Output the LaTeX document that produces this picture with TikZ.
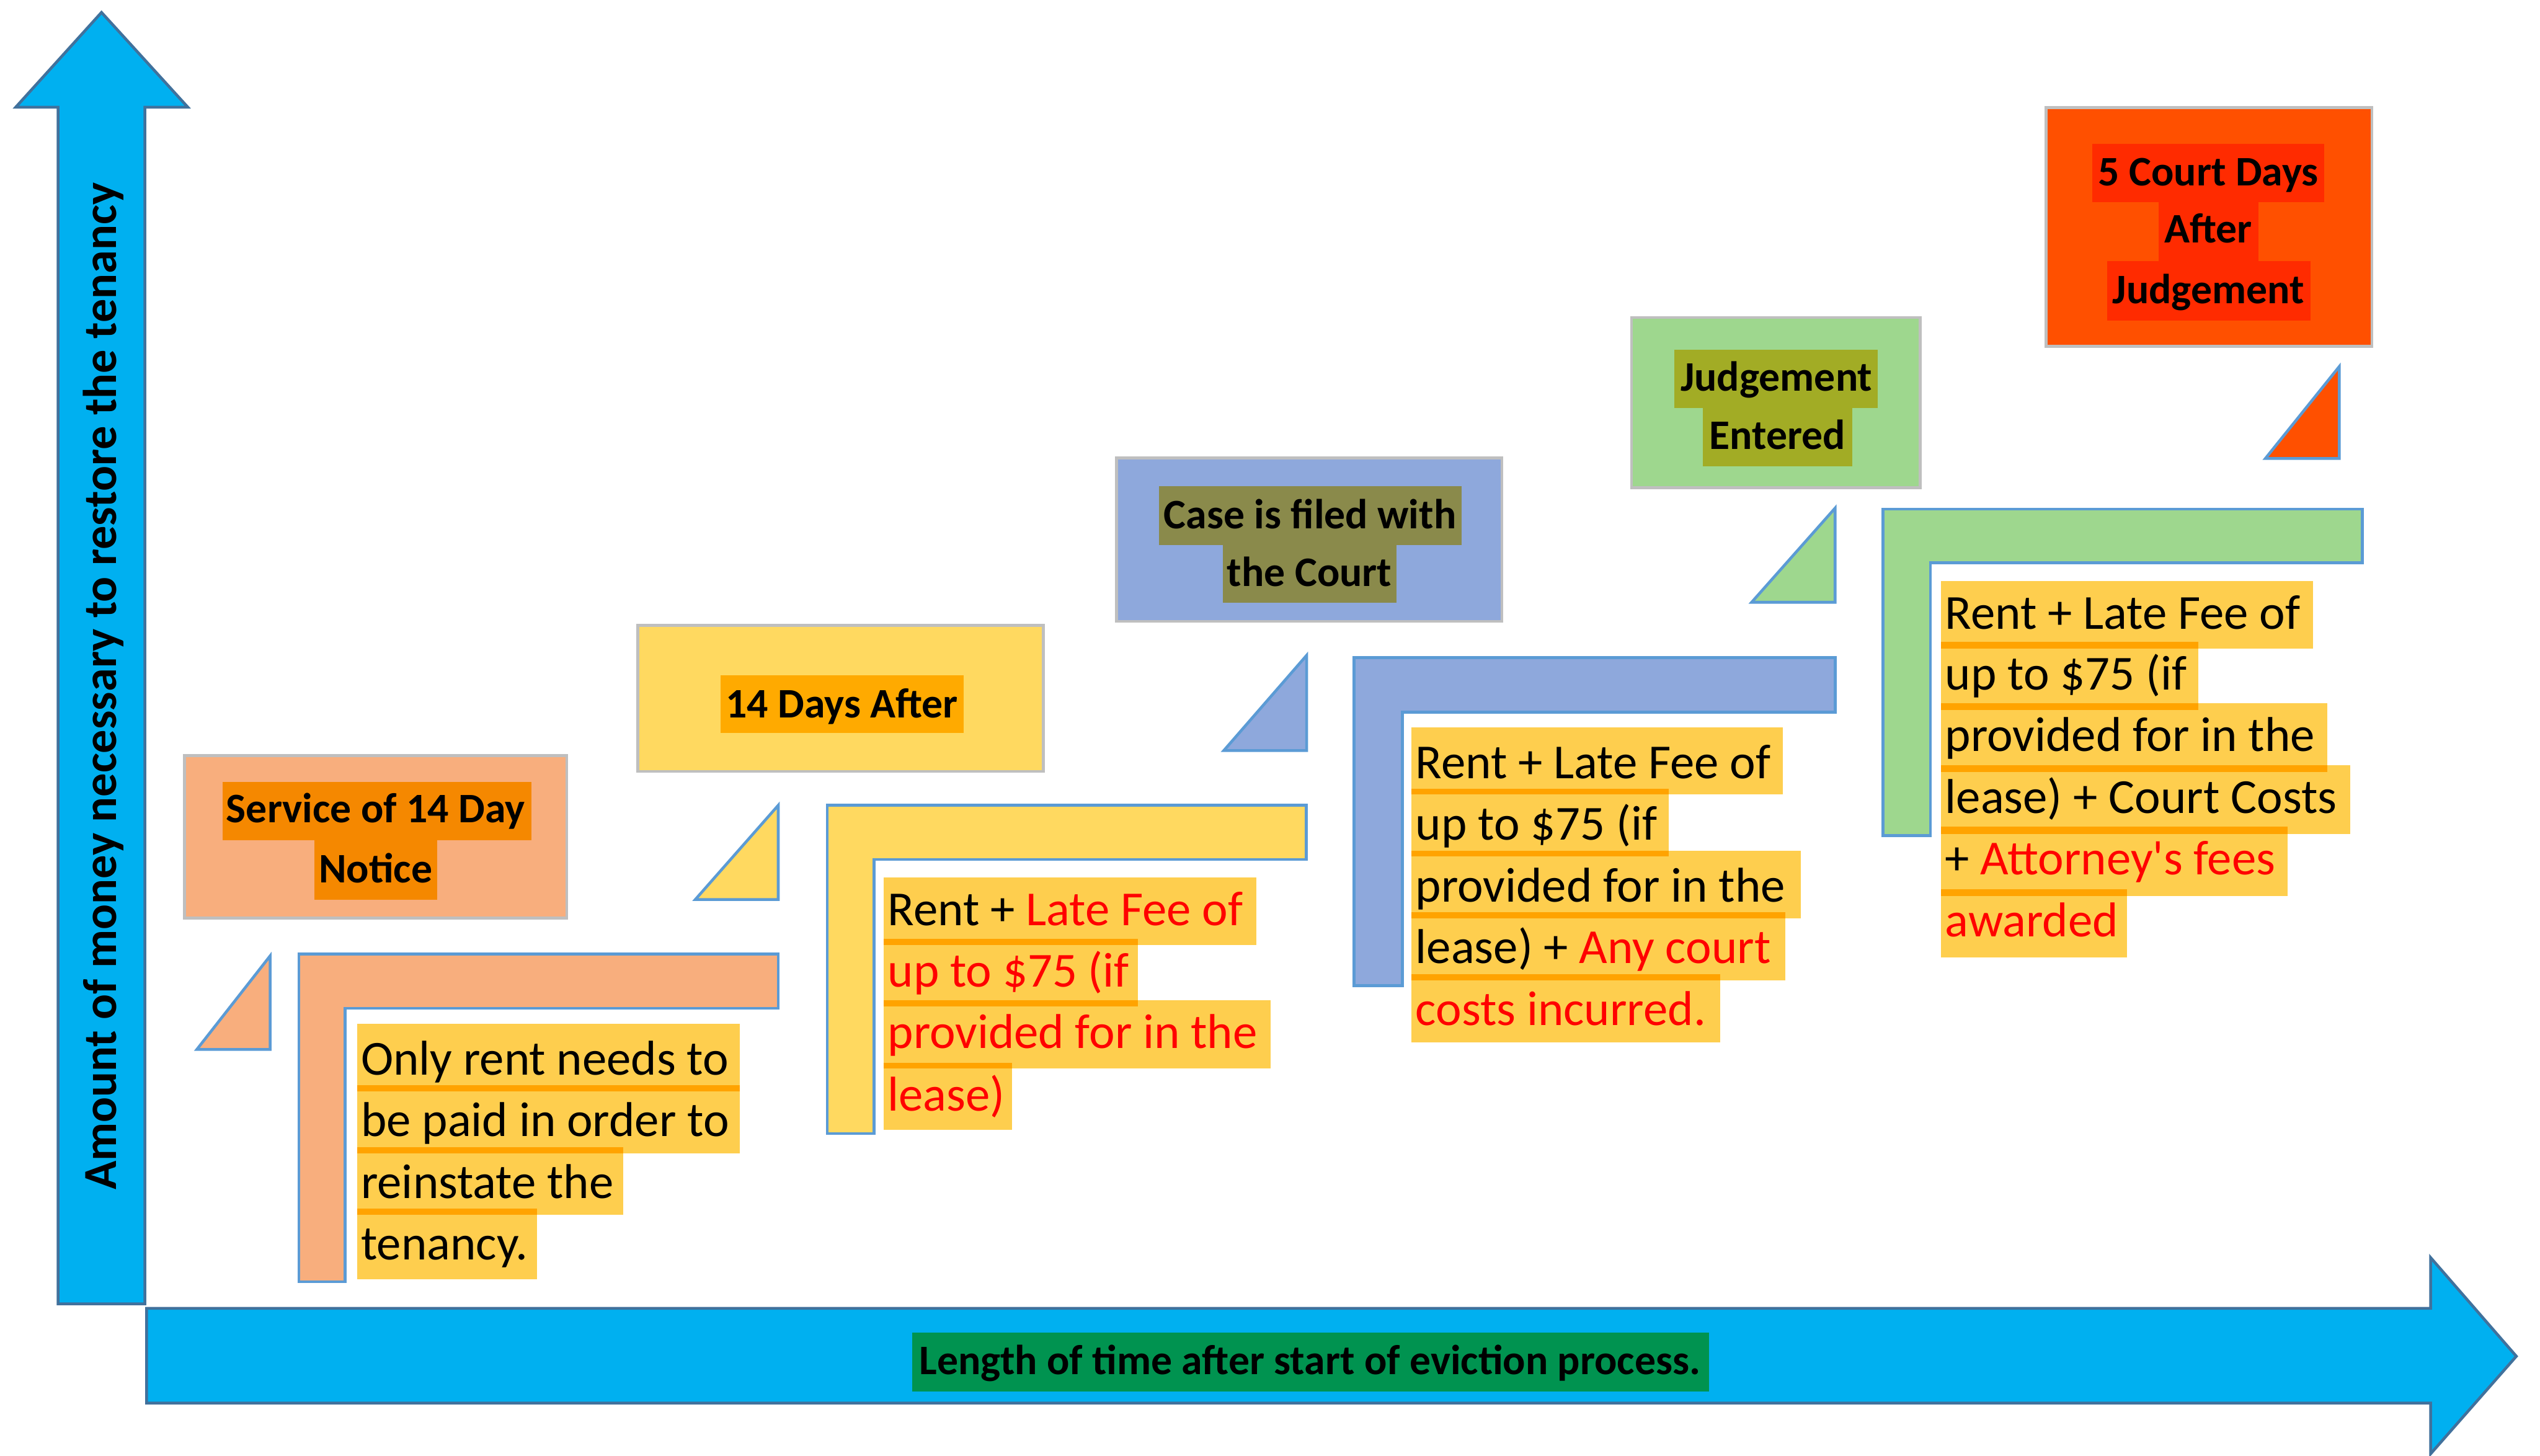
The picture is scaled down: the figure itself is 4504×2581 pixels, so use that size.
\documentclass[tikz,border=0pt]{standalone}
\usepackage{fontspec}
\setmainfont{Carlito}
\newfontfamily\apfont{Carlito}
\definecolor{axisblue}{HTML}{00B0F0}
\definecolor{axisedge}{HTML}{41719C}
\definecolor{boxgray}{HTML}{BFBFBF}
\definecolor{triblue}{HTML}{5B9BD5}
\definecolor{peach}{HTML}{F8AE7D}
\definecolor{yel}{HTML}{FFD960}
\definecolor{bluebox}{HTML}{8EA8DC}
\definecolor{greenbox}{HTML}{9ED78E}
\definecolor{redbox}{HTML}{FF5000}
\definecolor{hlpeach}{HTML}{F58800}
\definecolor{hlamber}{HTML}{FFAA00}
\definecolor{hlolive}{HTML}{8A8A4B}
\definecolor{hlolivetwo}{HTML}{A2AC25}
\definecolor{hlred}{HTML}{FF2B00}
\definecolor{lblgreen}{HTML}{009350}
\definecolor{hlgold}{HTML}{FECE4E}
\definecolor{hlorange}{HTML}{FFA300}
\definecolor{txtred}{HTML}{FF0000}
\begin{document}
\begin{tikzpicture}[x=1pt,y=-1pt,
  axis/.style={fill=axisblue, draw=axisedge, line width=5pt, line join=miter},
  evbox/.style={draw=boxgray, line width=5pt},
  tri/.style={draw=triblue, line width=5pt, line join=miter},
  lbl/.style={font=\fontsize{74.5}{89}\selectfont\bfseries, inner sep=0pt, anchor=base},
  ylbl/.style={font=\fontsize{84}{100}\selectfont\bfseries, inner sep=0pt, anchor=base, rotate=90},
  bodytxt/.style={font=\fontsize{86.7}{104}\selectfont, inner sep=0pt, anchor=base west},
  hl/.style={fill=hlgold},
  hlstrip/.style={fill=hlorange}]
\useasboundingbox (0,0) rectangle (4504,2581);

% axes
\draw[axis] (103,2312) -- (103,190) -- (28,190) -- (180,22) -- (333,190) -- (257,190) -- (257,2312) -- cycle;
\draw[axis] (260,2320) -- (4310,2320) -- (4310,2230) -- (4462,2405) -- (4310,2578) -- (4310,2488) -- (260,2488) -- cycle;
\fill[lblgreen] (1617,2363) rectangle (3030,2467);
\node[lbl] (xlab) at (2323,2437) {Length of time after start of eviction process.};
\node[ylbl] (ylab) at (206,1217) {Amount of money necessary to restore the tenancy};

% event boxes
\draw[evbox, fill=peach] (327,1340) rectangle (1005,1628);
\fill[hlpeach] (395,1387) rectangle (942,1490);
\fill[hlpeach] (557,1490) rectangle (775,1595);
\node[lbl] (b1a) at (666,1459) {Service of 14 Day};
\node[lbl] (b1b) at (666,1565) {Notice};

\draw[evbox, fill=yel] (1131,1109) rectangle (1850,1368);
\fill[hlamber] (1278,1197) rectangle (1709,1300);
\node[lbl] (b2) at (1493,1273) {14 Days After};

\draw[evbox, fill=bluebox] (1980,812) rectangle (2663,1102);
\fill[hlolive] (2055,862) rectangle (2592,966);
\fill[hlolive] (2168,966) rectangle (2476,1069);
\node[lbl] (b3a) at (2323,937) {Case is filed with};
\node[lbl] (b3b) at (2322,1040) {the Court};

\draw[evbox, fill=greenbox] (2893,563) rectangle (3405,865);
\fill[hlolivetwo] (2969,620) rectangle (3330,723);
\fill[hlolivetwo] (3020,723) rectangle (3284,827);
\node[lbl] (b4a) at (3150,693) {Judgement};
\node[lbl] (b4b) at (3152,797) {Entered};

\draw[evbox, fill=redbox] (3628,191) rectangle (4206,614);
\fill[hlred] (3710,255) rectangle (4121,359);
\fill[hlred] (3828,359) rectangle (4005,463);
\fill[hlred] (3736,463) rectangle (4097,568);
\node[lbl] (b5a) at (3916,329) {5 Court Days};
\node[lbl] (b5b) at (3916,431) {After};
\node[lbl] (b5c) at (3916,538) {Judgement};

% triangles
\draw[tri, fill=peach] (349,1861) -- (479,1861) -- (479,1695) -- cycle;
\draw[tri, fill=yel] (1233,1595) -- (1380,1595) -- (1380,1428) -- cycle;
\draw[tri, fill=bluebox] (2170,1331) -- (2317,1331) -- (2317,1162) -- cycle;
\draw[tri, fill=greenbox] (3106,1068) -- (3254,1068) -- (3254,901) -- cycle;
\draw[tri, fill=redbox] (4017,813) -- (4148,813) -- (4148,650) -- cycle;

% L shapes
\draw[tri, fill=peach] (530,1692) -- (1380,1692) -- (1380,1788) -- (612,1788) -- (612,2273) -- (530,2273) -- cycle;
\draw[tri, fill=yel] (1467,1428) -- (2316,1428) -- (2316,1524) -- (1550,1524) -- (1550,2010) -- (1467,2010) -- cycle;
\draw[tri, fill=bluebox] (2401,1166) -- (3254,1166) -- (3254,1263) -- (2487,1263) -- (2487,1748) -- (2401,1748) -- cycle;
\draw[tri, fill=greenbox] (3339,903) -- (4189,903) -- (4189,998) -- (3423,998) -- (3423,1482) -- (3339,1482) -- cycle;

% text block 1
\fill[hl] (633,1815) rectangle (1312,1935);
\fill[hl] (633,1924) rectangle (1312,2045);
\fill[hl] (633,2034) rectangle (1105,2154);
\fill[hl] (633,2143) rectangle (952,2269);
\fill[hlstrip] (633,1924) rectangle (1312,1935);
\fill[hlstrip] (633,2034) rectangle (1105,2045);
\fill[hlstrip] (633,2143) rectangle (952,2154);
\node[bodytxt] (t1a) at (640,1906) {Only rent needs to};
\node[bodytxt] (t1b) at (640,2015) {be paid in order to};
\node[bodytxt] (t1c) at (640,2125) {reinstate the};
\node[bodytxt] (t1d) at (640,2234) {tenancy.};

% text block 2
\fill[hl] (1567,1556) rectangle (2228,1676);
\fill[hl] (1567,1665) rectangle (2018,1785);
\fill[hl] (1567,1774) rectangle (2253,1895);
\fill[hl] (1567,1885) rectangle (1795,2004);
\fill[hlstrip] (1567,1665) rectangle (2018,1676);
\fill[hlstrip] (1567,1774) rectangle (2018,1785);
\fill[hlstrip] (1567,1885) rectangle (1795,1895);
\node[bodytxt] (t2a) at (1574,1641) {Rent + \textcolor{txtred}{Late Fee of}};
\node[bodytxt, text=txtred] (t2b) at (1574,1750) {up to \$75 (if};
\node[bodytxt, text=txtred] (t2c) at (1574,1859) {provided for in the};
\node[bodytxt, text=txtred] (t2d) at (1574,1970) {lease)};

% text block 3
\fill[hl] (2503,1290) rectangle (3161,1409);
\fill[hl] (2503,1399) rectangle (2959,1519);
\fill[hl] (2503,1509) rectangle (3193,1629);
\fill[hl] (2503,1618) rectangle (3166,1738);
\fill[hl] (2503,1728) rectangle (3050,1848);
\fill[hlstrip] (2503,1399) rectangle (2959,1409);
\fill[hlstrip] (2503,1509) rectangle (2959,1519);
\fill[hlstrip] (2503,1618) rectangle (3166,1629);
\fill[hlstrip] (2503,1728) rectangle (3050,1738);
\node[bodytxt] (t3a) at (2510,1380) {Rent + Late Fee of};
\node[bodytxt] (t3b) at (2510,1489) {up to \$75 (if};
\node[bodytxt] (t3c) at (2510,1599) {provided for in the};
\node[bodytxt] (t3d) at (2510,1708) {lease) + \textcolor{txtred}{Any court}};
\node[bodytxt, text=txtred] (t3e) at (2510,1818) {costs incurred.};

% text block 4
\fill[hl] (3442,1030) rectangle (4102,1150);
\fill[hl] (3442,1138) rectangle (3898,1259);
\fill[hl] (3442,1247) rectangle (4127,1369);
\fill[hl] (3442,1357) rectangle (4167,1479);
\fill[hl] (3442,1466) rectangle (4056,1589);
\fill[hl] (3442,1577) rectangle (3772,1698);
\fill[hlstrip] (3442,1138) rectangle (3898,1150);
\fill[hlstrip] (3442,1247) rectangle (3898,1259);
\fill[hlstrip] (3442,1357) rectangle (4127,1369);
\fill[hlstrip] (3442,1466) rectangle (4056,1479);
\fill[hlstrip] (3442,1577) rectangle (3772,1589);
\node[bodytxt] (t4a) at (3449,1115) {Rent + Late Fee of};
\node[bodytxt] (t4b) at (3449,1223) {up to \$75 (if};
\node[bodytxt] (t4c) at (3449,1332) {provided for in the};
\node[bodytxt] (t4d) at (3449,1442) {lease) + Court Costs};
\node[bodytxt] (t4e) at (3449,1551) {+ \textcolor{txtred}{Attorney{\apfont'}s fees}};
\node[bodytxt, text=txtred] (t4f) at (3449,1661) {awarded};
\end{tikzpicture}
\end{document}
